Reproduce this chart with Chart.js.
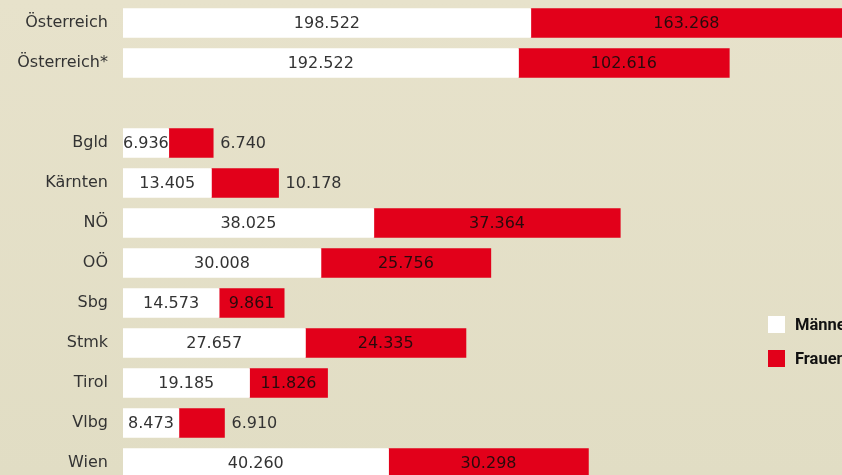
<!DOCTYPE html>
<html lang="de">
<head>
<meta charset="utf-8">
<title>Männer und Frauen nach Bundesland</title>
<script src="https://cdn.jsdelivr.net/npm/chart.js@4/dist/chart.umd.min.js"></script>
<style>
  html, body { margin: 0; padding: 0; overflow: hidden; }
  body {
    width: 842px; height: 475px;
    background: linear-gradient(to bottom, #e7e2cb, #e1ddc4);
    font-family: "DejaVu Sans", sans-serif;
  }
  #wrap { position: relative; width: 842px; height: 483px; }
  #legend { position: absolute; left: 768px; top: 316px; white-space: nowrap; }
  .item { display: flex; align-items: center; height: 17px; margin-bottom: 17px; }
  .box { width: 17px; height: 17px; margin-right: 10px; }
  .item span { font-family: Roboto, sans-serif; font-weight: bold; font-size: 16.5px; color: #111111; }
</style>
</head>
<body>
<div id="wrap">
  <canvas id="chart"></canvas>
  <div id="legend">
    <div class="item"><div class="box" style="background:#ffffff"></div><span>Männer</span></div>
    <div class="item"><div class="box" style="background:#e2001a"></div><span>Frauen</span></div>
  </div>
</div>
<script>
// Österreich gesamt
const oesterreichLabels = ['Österreich', 'Österreich*'];
const oesterreichMaenner = [198522, 192522];
const oesterreichFrauen = [163268, 102616];

// Bundesländer
const bundeslaender = ['Bgld', 'Kärnten', 'NÖ', 'OÖ', 'Sbg', 'Stmk', 'Tirol', 'Vlbg', 'Wien'];
const bundeslaenderMaenner = [6936, 13405, 38025, 30008, 14573, 27657, 19185, 8473, 40260];
const bundeslaenderFrauen = [6740, 10178, 37364, 25756, 9861, 24335, 11826, 6910, 30298];

const WHITE = '#ffffff';
const RED = '#e2001a';

// leere Zeile zwischen Österreich und den Bundesländern
const labels = [...oesterreichLabels, '', ...bundeslaender];
const none = n => Array(n).fill(null);

function fmt(v) {
    return String(v).replace(/\B(?=(\d{3})+(?!\d))/g, '.');
}

// draws the numbers into / next to the bars
const valueLabels = {
    id: 'valueLabels',
    afterDatasetsDraw(chart) {
        const ctx = chart.ctx;
        const area = chart.chartArea;
        ctx.save();
        ctx.font = '16px "DejaVu Sans"';
        ctx.textBaseline = 'middle';
        chart.data.datasets.forEach((ds, i) => {
            const meta = chart.getDatasetMeta(i);
            meta.data.forEach((bar, j) => {
                const v = ds.data[j];
                if (v == null) return;
                const text = fmt(v);
                const w = ctx.measureText(text).width;
                const left = bar.base;
                const right = Math.min(bar.x, area.right);
                if (ds.isMen || (right - left) - w > 15) {
                    ctx.textAlign = 'center';
                    ctx.fillStyle = ds.isMen ? '#333333' : '#2a0a0c';
                    ctx.fillText(text, (left + right) / 2, bar.y + 1);
                } else {
                    ctx.textAlign = 'left';
                    ctx.fillStyle = '#333333';
                    ctx.fillText(text, right + 7, bar.y + 1);
                }
            });
        });
        ctx.restore();
    }
};

const ctx = document.getElementById('chart').getContext('2d');
const chart = new Chart(ctx, {
    type: 'bar',
    data: {
        labels: labels,
        datasets: [
            {
                label: 'Männer',
                isMen: true,
                xAxisID: 'xAT',
                backgroundColor: WHITE,
                data: [...oesterreichMaenner, ...none(1 + bundeslaender.length)]
            },
            {
                label: 'Frauen',
                xAxisID: 'xAT',
                backgroundColor: RED,
                data: [...oesterreichFrauen, ...none(1 + bundeslaender.length)]
            },
            {
                label: 'Männer',
                isMen: true,
                xAxisID: 'x',
                backgroundColor: WHITE,
                data: [...none(3), ...bundeslaenderMaenner]
            },
            {
                label: 'Frauen',
                xAxisID: 'x',
                backgroundColor: RED,
                data: [...none(3), ...bundeslaenderFrauen]
            }
        ]
    },
    options: {
        indexAxis: 'y',
        responsive: true,
        maintainAspectRatio: false,
        animation: false,
        layout: { padding: { top: 3, bottom: 0, left: 0, right: 0 } },
        datasets: { bar: { barThickness: 29, borderWidth: 0 } },
        plugins: {
            legend: { display: false },
            tooltip: { enabled: false }
        },
        scales: {
            x: { display: false, stacked: true, min: 0, max: 109000 },
            xAT: { display: false, stacked: true, min: 0, max: 350000, axis: 'x' },
            y: {
                stacked: true,
                grid: { display: false, drawTicks: false },
                border: { display: false },
                afterFit: scale => {
                    scale.width = 123;
                    scale.paddingTop = 0;
                    scale.paddingBottom = 0;
                },
                ticks: {
                    color: '#333333',
                    padding: 15,
                    font: { family: 'DejaVu Sans', size: 16 }
                }
            }
        }
    },
    plugins: [valueLabels]
});
</script>
</body>
</html>
